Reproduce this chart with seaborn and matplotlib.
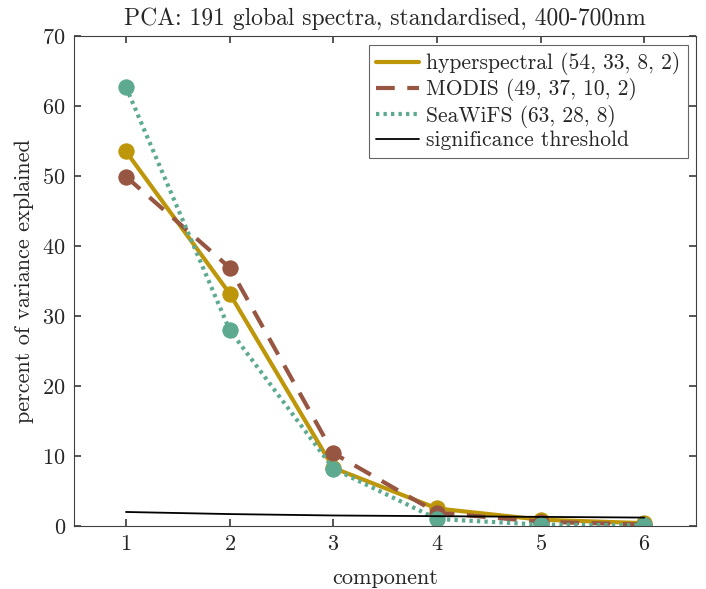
import matplotlib
matplotlib.use("Agg")
import matplotlib.pyplot as plt
import seaborn as sns
import pandas as pd

components = [1, 2, 3, 4, 5, 6]
hyperspectral = [53.5, 33.2, 8.3, 2.5, 0.9, 0.4]
modis = [49.9, 36.9, 10.4, 1.9, 0.6, 0.2]
seawifs = [62.7, 28.0, 8.2, 1.0, 0.2, 0.1]
threshold = [2.0, 1.7, 1.5, 1.4, 1.3, 1.2]

labels = ["hyperspectral (54, 33, 8, 2)", "MODIS (49, 37, 10, 2)",
          "SeaWiFS (63, 28, 8)", "significance threshold"]
colors = ["#BE960A", "#975641", "#5EAA91", "black"]

sns.set_theme(style="ticks")
plt.rcParams["font.family"] = ["cmr10", "DejaVu Serif"]
plt.rcParams["mathtext.fontset"] = "cm"
plt.rcParams["axes.formatter.use_mathtext"] = True

fig = plt.figure(figsize=(7.06, 5.89), dpi=100)
ax = fig.add_axes([0.105, 0.107, 0.881, 0.832])

df = pd.DataFrame({"component": components, "hyper": hyperspectral,
                   "modis": modis, "seawifs": seawifs, "thr": threshold})

sns.lineplot(data=df, x="component", y="hyper", ax=ax, color=colors[0],
             lw=3, marker="o", markersize=11, markeredgecolor=colors[0],
             label=labels[0])
sns.lineplot(data=df, x="component", y="modis", ax=ax, color=colors[1],
             lw=3, marker="o", markersize=11, markeredgecolor=colors[1],
             dashes=False, label=labels[1])
ax.lines[-1].set_linestyle((0, (4.5, 3)))
sns.lineplot(data=df, x="component", y="seawifs", ax=ax, color=colors[2],
             lw=3, marker="o", markersize=11, markeredgecolor=colors[2],
             label=labels[2])
ax.lines[-1].set_linestyle((0, (0.8, 1.0)))
ax.lines[-1].set_dash_capstyle("butt")
sns.lineplot(data=df, x="component", y="thr", ax=ax, color=colors[3],
             lw=1.3, label=labels[3])

ax.set_xlim(0.5, 6.5)
ax.set_ylim(0, 70)
ax.set_xticks(components)
ax.set_yticks(range(0, 71, 10))
ax.set_xlabel("component", fontsize=16, labelpad=10)
ax.set_ylabel("percent of variance explained", fontsize=16, labelpad=6)
ax.set_title("PCA: 191 global spectra, standardised, 400-700nm", fontsize=17,
             pad=8)
ax.tick_params(direction="in", top=True, right=True, labelsize=16,
               color="#404040", length=5, pad=6)
for s in ax.spines.values():
    s.set_color("#404040")
    s.set_linewidth(0.8)

leg = ax.legend(loc="upper right", fontsize=15.5, frameon=True, fancybox=False,
                edgecolor="#404040", handlelength=2.0, borderpad=0.35,
                labelspacing=0.15, handletextpad=0.3, borderaxespad=0.4)
leg.get_frame().set_linewidth(0.8)
for h in leg.get_lines():
    h.set_marker("")

fig.savefig("out.png", dpi=100)
